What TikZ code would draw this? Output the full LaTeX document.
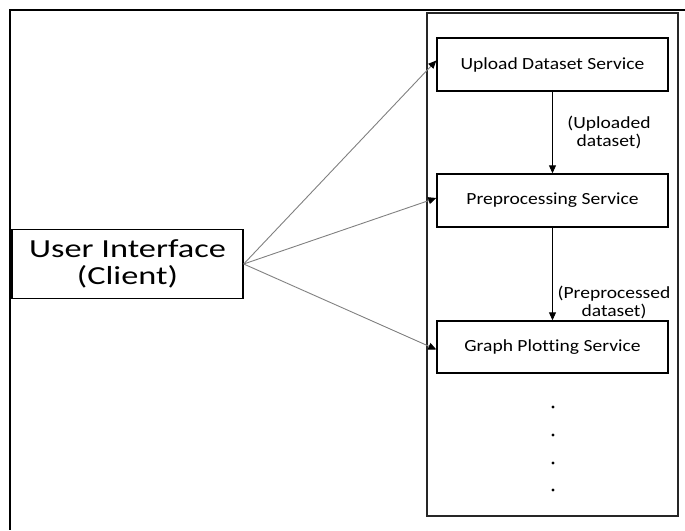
\documentclass[tikz,border=0pt]{standalone}
\usepackage{fontspec}
\setmainfont[FakeStretch=1.15,Ligatures={NoCommon}]{Carlito}
\usetikzlibrary{arrows.meta}
\begin{document}
\begin{tikzpicture}[x=1pt,y=-1pt,
  svc/.style={draw=black,line width=1.4pt,minimum width=231pt,inner sep=0pt,font=\fontsize{17}{18}\selectfont},
  uibox/.style={draw=black,line width=1.4pt,minimum width=231pt,minimum height=69pt,inner sep=0pt,align=center,font=\fontsize{26}{27}\selectfont\addfontfeature{FakeStretch=1.32}},
  lbl/.style={align=center,inner sep=0pt,font=\fontsize{17}{18}\selectfont},
  conn/.style={draw=black!50,line width=0.9pt,-{Triangle[length=8pt,width=7pt,color=black]}},
  flow/.style={draw=black,line width=0.9pt,-{Triangle[length=8pt,width=7pt]}},
  dotn/.style={circle,fill=black,inner sep=0pt,minimum size=3.2pt}]
\useasboundingbox (0,0) rectangle (685,530);
% outer frame
\draw[line width=2.8pt] (685,10) -- (10,10) -- (10,530);
% container
\node[draw=black!85,line width=1.3pt,minimum width=251pt,minimum height=503pt,inner sep=0pt] (cont) at (552.5,264.5) {};
% nodes
\node[uibox] (ui) at (127.5,264) {User Interface\\(Client)};
\node[svc,minimum height=53pt] (up) at (552.5,64.5) {Upload Dataset Service};
\node[svc,minimum height=53pt] (pre) at (552.5,200.5) {Preprocessing Service};
\node[svc,minimum height=52pt] (gp) at (552.5,347) {Graph Plotting Service};
% labels
\node[lbl] (l1) at (609,132) {(Uploaded\\dataset)};
\node[lbl] (l2) at (614,302) {(Preprocessed\\dataset)};
% dots
\node[dotn] (d1) at (553,407) {};
\node[dotn] (d2) at (553,435) {};
\node[dotn] (d3) at (553,463) {};
\node[dotn] (d4) at (553,490) {};
% connectors
\draw[conn] (ui.east) -- ([yshift=4pt]up.west);
\draw[conn] (ui.east) -- ([yshift=2.5pt]pre.west);
\draw[conn] (ui.east) -- ([yshift=-2.5pt]gp.west);
\draw[flow] (up.south) -- (pre.north);
\draw[flow] (pre.south) -- (gp.north);
\end{tikzpicture}
\end{document}
